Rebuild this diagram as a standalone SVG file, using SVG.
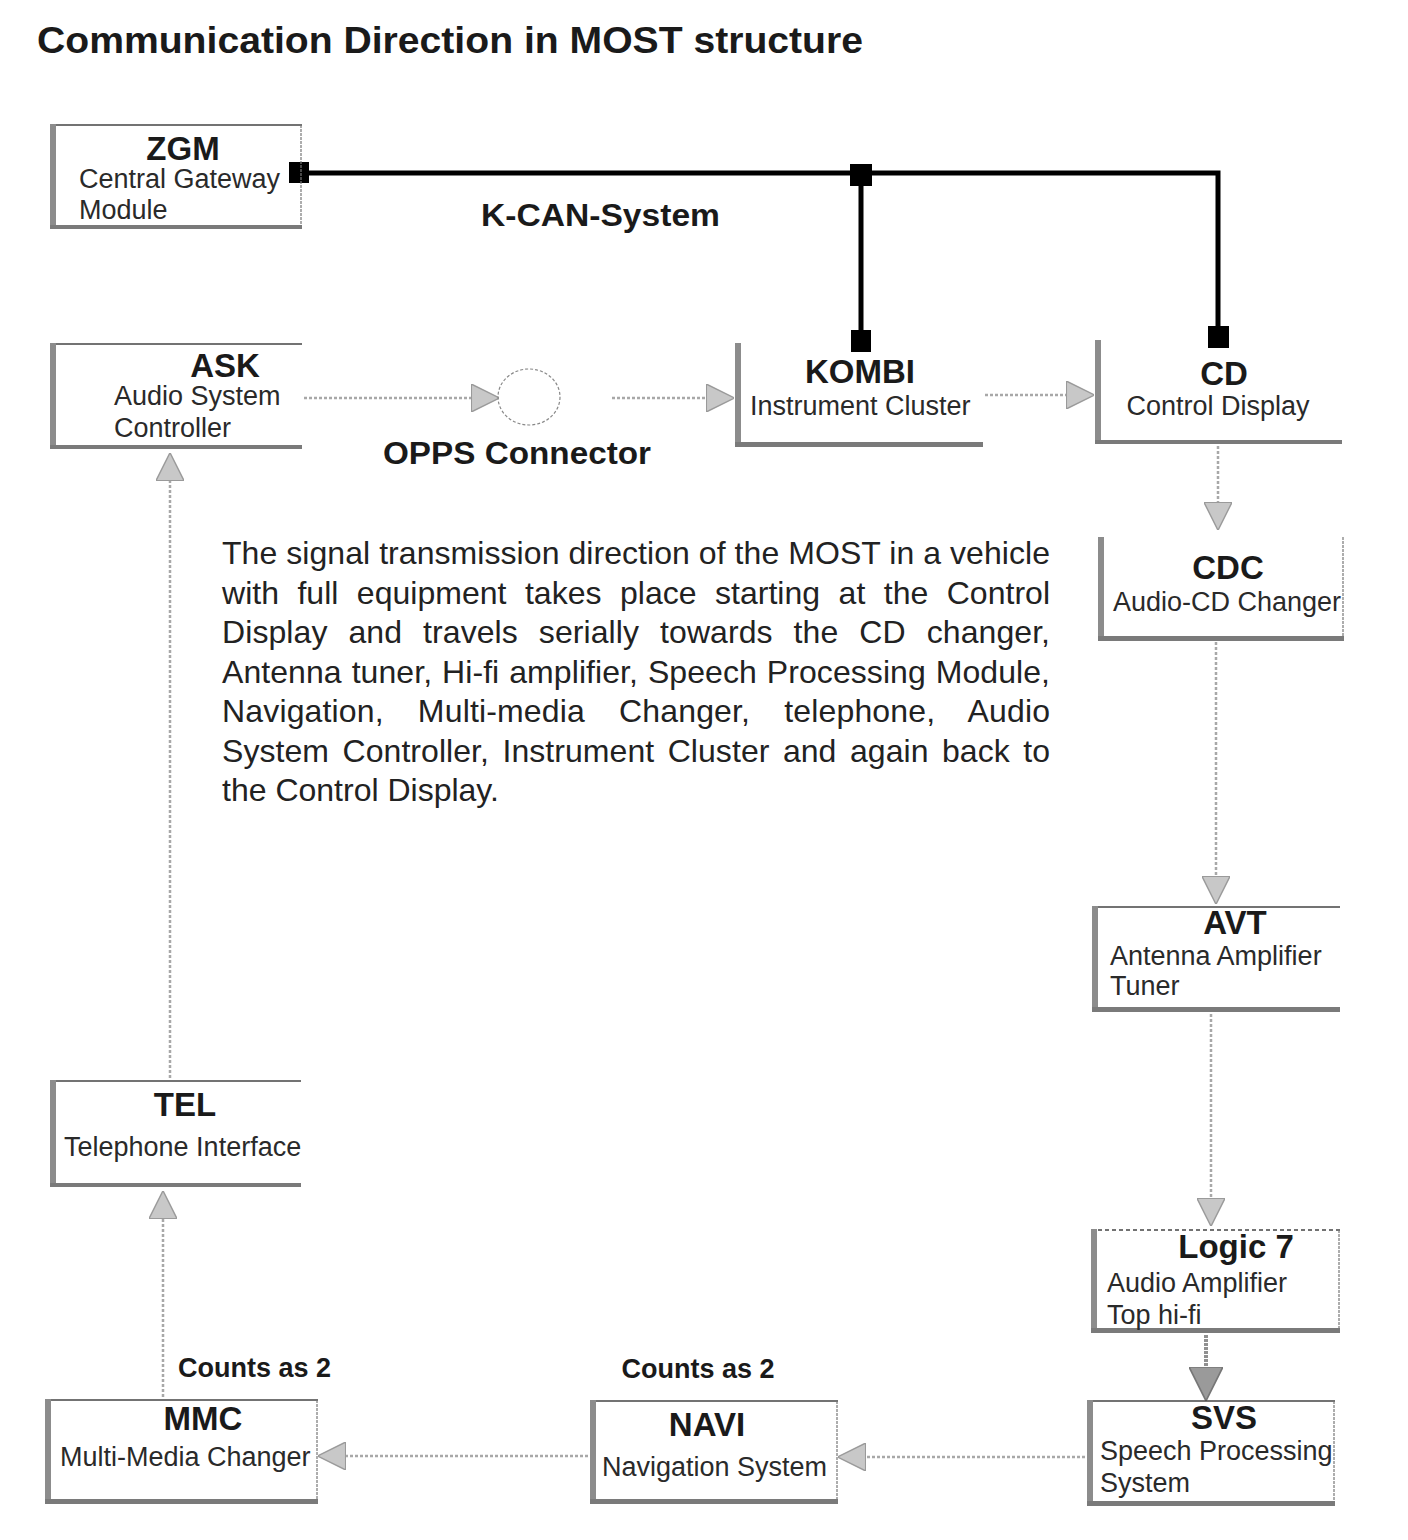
<svg xmlns="http://www.w3.org/2000/svg" width="1408" height="1540" viewBox="0 0 1408 1540">
<style>
text{font-family:"Liberation Sans",Arial,sans-serif;fill:#1a1a1a}
.title{font-size:36px;font-weight:bold}
.h{font-size:33px;font-weight:bold;text-anchor:middle}
.s{font-size:27px;fill:#2a2a2a}
.lbl{font-size:32px;font-weight:bold}
.cnt{font-size:27px;font-weight:bold}
.p{font-size:32px;fill:#222}
.lt{fill:#8c8c8c}
.bt{fill:#7a7a7a}
.tp{stroke:#444;stroke-width:1.5;fill:none}
.rt{stroke:#777;stroke-width:1.2;fill:none;stroke-dasharray:3 1}
.bus{stroke:#000;stroke-width:5;fill:none}
.sq{fill:#000}
.most{stroke:#a8a8a8;stroke-width:2.5;fill:none;stroke-dasharray:3 2}
.most2{stroke:#909090;stroke-width:4;fill:none;stroke-dasharray:3 1}
</style>
<defs>
<marker id="arL" viewBox="0 0 12 12" refX="11" refY="6" markerWidth="28" markerHeight="28" markerUnits="userSpaceOnUse" orient="auto">
<path d="M0,0 L12,6 L0,12 Z" fill="#c8c8c8" stroke="#9a9a9a" stroke-width="0.6"/>
</marker>
<marker id="arD" viewBox="0 0 12 12" refX="11" refY="6" markerWidth="34" markerHeight="34" markerUnits="userSpaceOnUse" orient="auto">
<path d="M0,0 L12,6 L0,12 Z" fill="#9a9a9a" stroke="#777" stroke-width="0.6"/>
</marker>
</defs>

<text class="title" x="37" y="53" textLength="826" lengthAdjust="spacingAndGlyphs">Communication Direction in MOST structure</text>

<g id="connectors">
<path class="bus" d="M300,173 H1218 V330"/>
<path class="bus" d="M861,175 V335"/>
<rect class="sq" x="289" y="162" width="20" height="21"/>
<rect class="sq" x="850" y="164" width="22" height="22"/>
<rect class="sq" x="851" y="330" width="20" height="22"/>
<rect class="sq" x="1208" y="326" width="21" height="22"/>
<path class="most" d="M304,398 H497" marker-end="url(#arL)"/>
<ellipse cx="529" cy="397" rx="31" ry="28" fill="none" stroke="#888" stroke-width="1.2" stroke-dasharray="3 2"/>
<path class="most" d="M612,398 H732" marker-end="url(#arL)"/>
<path class="most" d="M985,395 H1092" marker-end="url(#arL)"/>
<path class="most" d="M1218,446 V528" marker-end="url(#arL)"/>
<path class="most" d="M1216,642 V902" marker-end="url(#arL)"/>
<path class="most" d="M1211,1014 V1224" marker-end="url(#arL)"/>
<path class="most2" d="M1206,1335 V1398" marker-end="url(#arD)"/>
<path class="most" d="M1085,1457 H840" marker-end="url(#arL)"/>
<path class="most" d="M588,1456 H320" marker-end="url(#arL)"/>
<path class="most" d="M163,1397 V1193" marker-end="url(#arL)"/>
<path class="most" d="M170,1078 V455" marker-end="url(#arL)"/>
</g>

<g id="ZGM">
<path class="tp" d="M50,125 H302"/>
<path class="rt" d="M301,125 V229"/>
<rect class="lt" x="50" y="124" width="6" height="105"/>
<rect class="bt" x="50" y="225" width="252" height="4"/>
<text class="h" x="183" y="160">ZGM</text>
<text class="s" x="79" y="188">Central Gateway</text>
<text class="s" x="79" y="219">Module</text>
</g>

<text class="lbl" x="481" y="226" textLength="239" lengthAdjust="spacingAndGlyphs">K-CAN-System</text>

<g id="ASK">
<path class="tp" d="M50,344 H302"/>
<rect class="lt" x="50" y="343" width="6" height="106"/>
<rect class="bt" x="50" y="445" width="252" height="4"/>
<text class="h" x="225" y="377">ASK</text>
<text class="s" x="114" y="405">Audio System</text>
<text class="s" x="114" y="437">Controller</text>
</g>

<text class="lbl" x="383" y="464" textLength="268" lengthAdjust="spacingAndGlyphs">OPPS Connector</text>

<g id="KOMBI">
<rect class="lt" x="735" y="343" width="6" height="104"/>
<rect class="bt" x="735" y="442" width="248" height="5"/>
<text class="h" x="860" y="383">KOMBI</text>
<text class="s" x="750" y="415">Instrument Cluster</text>
</g>

<g id="CD">
<rect class="lt" x="1095" y="340" width="6" height="104"/>
<rect class="bt" x="1095" y="440" width="247" height="4"/>
<text class="h" x="1224" y="385">CD</text>
<text class="s" x="1218" y="415" text-anchor="middle">Control Display</text>
</g>

<g id="text">
<text class="p" x="222" y="564" textLength="828" lengthAdjust="spacing">The signal transmission direction of the MOST in a vehicle</text>
<text class="p" x="222" y="604" word-spacing="9.5" textLength="828" lengthAdjust="spacing">with full equipment takes place starting at the Control</text>
<text class="p" x="222" y="643" word-spacing="12" textLength="828" lengthAdjust="spacing">Display and travels serially towards the CD changer,</text>
<text class="p" x="222" y="683" word-spacing="1" textLength="828" lengthAdjust="spacing">Antenna tuner, Hi-fi amplifier, Speech Processing Module,</text>
<text class="p" x="222" y="722" word-spacing="25" textLength="828" lengthAdjust="spacing">Navigation, Multi-media Changer, telephone, Audio</text>
<text class="p" x="222" y="762" word-spacing="4.5" textLength="828" lengthAdjust="spacing">System Controller, Instrument Cluster and again back to</text>
<text class="p" x="222" y="801">the Control Display.</text>
</g>

<g id="CDC">
<path class="rt" d="M1343,537 V640"/>
<rect class="lt" x="1098" y="537" width="6" height="104"/>
<rect class="bt" x="1098" y="636" width="246" height="5"/>
<text class="h" x="1228" y="579">CDC</text>
<text class="s" x="1113" y="611">Audio-CD Changer</text>
</g>

<g id="AVT">
<path class="tp" d="M1092,907 H1340"/>
<rect class="lt" x="1092" y="906" width="6" height="106"/>
<rect class="bt" x="1092" y="1007" width="248" height="5"/>
<text class="h" x="1235" y="934">AVT</text>
<text class="s" x="1110" y="965">Antenna Amplifier</text>
<text class="s" x="1110" y="995">Tuner</text>
</g>

<g id="Logic7">
<path class="tp" d="M1091,1230 H1340" stroke-dasharray="4 3"/>
<path class="rt" d="M1339,1230 V1333"/>
<rect class="lt" x="1091" y="1229" width="6" height="104"/>
<rect class="bt" x="1091" y="1328" width="249" height="5"/>
<text class="h" x="1236" y="1258">Logic 7</text>
<text class="s" x="1107" y="1292">Audio Amplifier</text>
<text class="s" x="1107" y="1324">Top hi-fi</text>
</g>

<g id="SVS">
<path class="tp" d="M1087,1401 H1335"/>
<path class="rt" d="M1334,1401 V1505"/>
<rect class="lt" x="1087" y="1400" width="6" height="105"/>
<rect class="bt" x="1087" y="1501" width="248" height="5"/>
<text class="h" x="1224" y="1429">SVS</text>
<text class="s" x="1100" y="1460">Speech Processing</text>
<text class="s" x="1100" y="1492">System</text>
</g>

<text class="cnt" x="698" y="1378" text-anchor="middle">Counts as 2</text>

<g id="NAVI">
<path class="tp" d="M590,1401 H838"/>
<path class="rt" d="M837,1401 V1503"/>
<rect class="lt" x="590" y="1400" width="6" height="103"/>
<rect class="bt" x="590" y="1499" width="248" height="5"/>
<text class="h" x="707" y="1436">NAVI</text>
<text class="s" x="602" y="1476">Navigation System</text>
</g>

<text class="cnt" x="178" y="1377">Counts as 2</text>

<g id="MMC">
<path class="tp" d="M45,1400 H318"/>
<path class="rt" d="M317,1400 V1503"/>
<rect class="lt" x="45" y="1399" width="6" height="104"/>
<rect class="bt" x="45" y="1499" width="273" height="5"/>
<text class="h" x="203" y="1430">MMC</text>
<text class="s" x="60" y="1466">Multi-Media Changer</text>
</g>

<g id="TEL">
<path class="tp" d="M50,1081 H301"/>
<rect class="lt" x="50" y="1080" width="6" height="107"/>
<rect class="bt" x="50" y="1183" width="251" height="4"/>
<text class="h" x="185" y="1116">TEL</text>
<text class="s" x="64" y="1156">Telephone Interface</text>
</g>
</svg>
